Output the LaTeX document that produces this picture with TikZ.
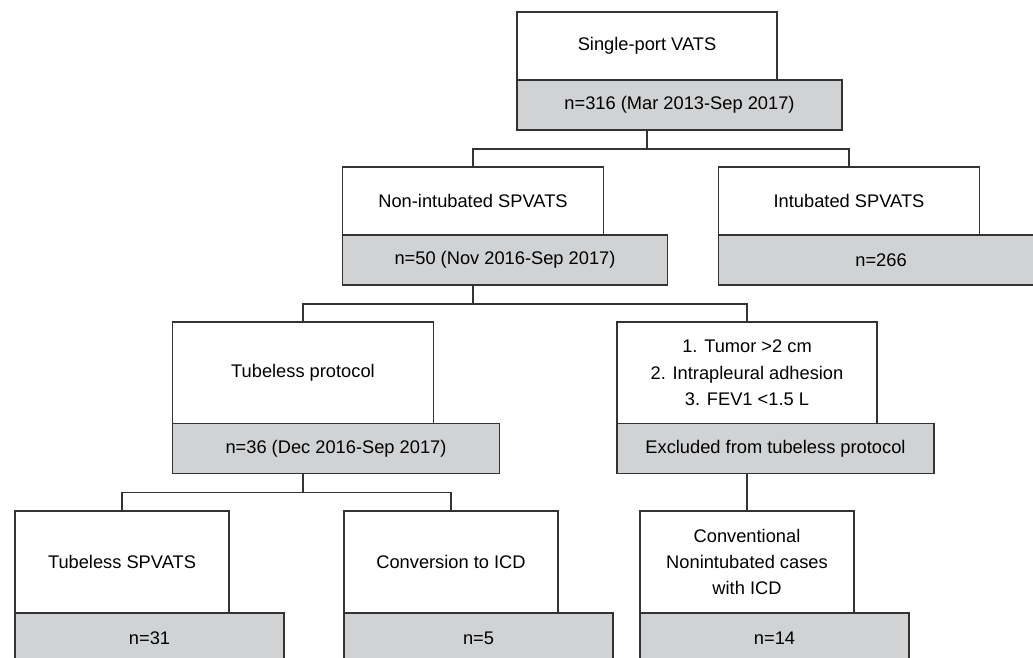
\documentclass[tikz,border=0pt]{standalone}
\usepackage{fontspec}
\setmainfont{Liberation Sans}
\usepackage{xcolor}
\usetikzlibrary{positioning, calc}
\definecolor{boxline}{HTML}{333333}
\definecolor{boxgray}{HTML}{D1D2D4}

\begin{document}
\begin{tikzpicture}[
  namebox/.style={rectangle, draw=boxline, fill=white, line width=0.75pt, minimum width=#1, minimum height=1.36cm, inner sep=2pt, outer sep=0pt, align=center, anchor=north, font=\fontsize{10.4}{15}\selectfont},
  countbox/.style={rectangle, draw=boxline, fill=boxgray, line width=0.75pt, minimum width=#1, minimum height=1cm, inner sep=2pt, outer sep=0pt, align=center, anchor=north west, font=\fontsize{10.4}{15}\selectfont},
  link/.style={draw=boxline, line width=0.75pt}
]
  \clip (0,0) rectangle (20.66,-13.16);

  % All cases
  \node[namebox=5.2cm] (rootw) at (12.94,-0.24) {Single-port VATS};
  \node[countbox=6.5cm] (rootg) at (rootw.south west) {n=316 (Mar 2013-Sep 2017)};

  % Non-intubated / intubated
  \node[namebox=5.22cm] (nonintw) at (9.46,-3.34) {Non-intubated SPVATS};
  \node[countbox=6.5cm] (nonintg) at (nonintw.south west) {n=50 (Nov 2016-Sep 2017)};
  \node[namebox=5.22cm, right=2.3cm of nonintw] (intw) {Intubated SPVATS};
  \node[countbox=6.5cm] (intg) at (intw.south west) {n=266};

  % Tubeless protocol / excluded
  \node[namebox=5.22cm, minimum height=2.03cm] (tubw) at (6.06,-6.44) {Tubeless protocol};
  \node[countbox=6.54cm] (tubg) at (tubw.south west) {n=36 (Dec 2016-Sep 2017)};
  \node[namebox=5.2cm, minimum height=2.03cm, right=3.67cm of tubw] (exclw) {1. Tumor >2 cm\\2. Intrapleural adhesion\\3. FEV1 <1.5 L};
  \node[countbox=6.34cm] (exclg) at (exclw.south west) {Excluded from tubeless protocol};

  % Outcomes
  \node[namebox=4.28cm, minimum height=2.04cm] (spvw) at (2.44,-10.22) {Tubeless SPVATS};
  \node[countbox=5.38cm] (spvg) at (spvw.south west) {n=31};
  \node[namebox=4.28cm, minimum height=2.04cm, right=2.3cm of spvw] (convw) {Conversion to ICD};
  \node[countbox=5.38cm] (convg) at (convw.south west) {n=5};
  \node[namebox=4.28cm, minimum height=2.04cm] (convnw) at (14.94,-10.22) {Conventional\\Nonintubated cases\\with ICD};
  \node[countbox=5.38cm] (convng) at (convnw.south west) {n=14};

  % Connectors
  \draw[link] (rootw.south |- rootg.south) -- ++(0,-0.38) coordinate (split1);
  \draw[link] (split1) -| (nonintw.north);
  \draw[link] (split1) -| (intw.north);
  \draw[link] (nonintw.south |- nonintg.south) -- ++(0,-0.38) coordinate (split2);
  \draw[link] (split2) -| (tubw.north);
  \draw[link] (split2) -| (exclw.north);
  \draw[link] (tubw.south |- tubg.south) -- ++(0,-0.38) coordinate (split3);
  \draw[link] (split3) -| (spvw.north);
  \draw[link] (split3) -| (convw.north);
  \draw[link] (exclw.south |- exclg.south) -- (exclw.south |- convnw.north);
\end{tikzpicture}
\end{document}
